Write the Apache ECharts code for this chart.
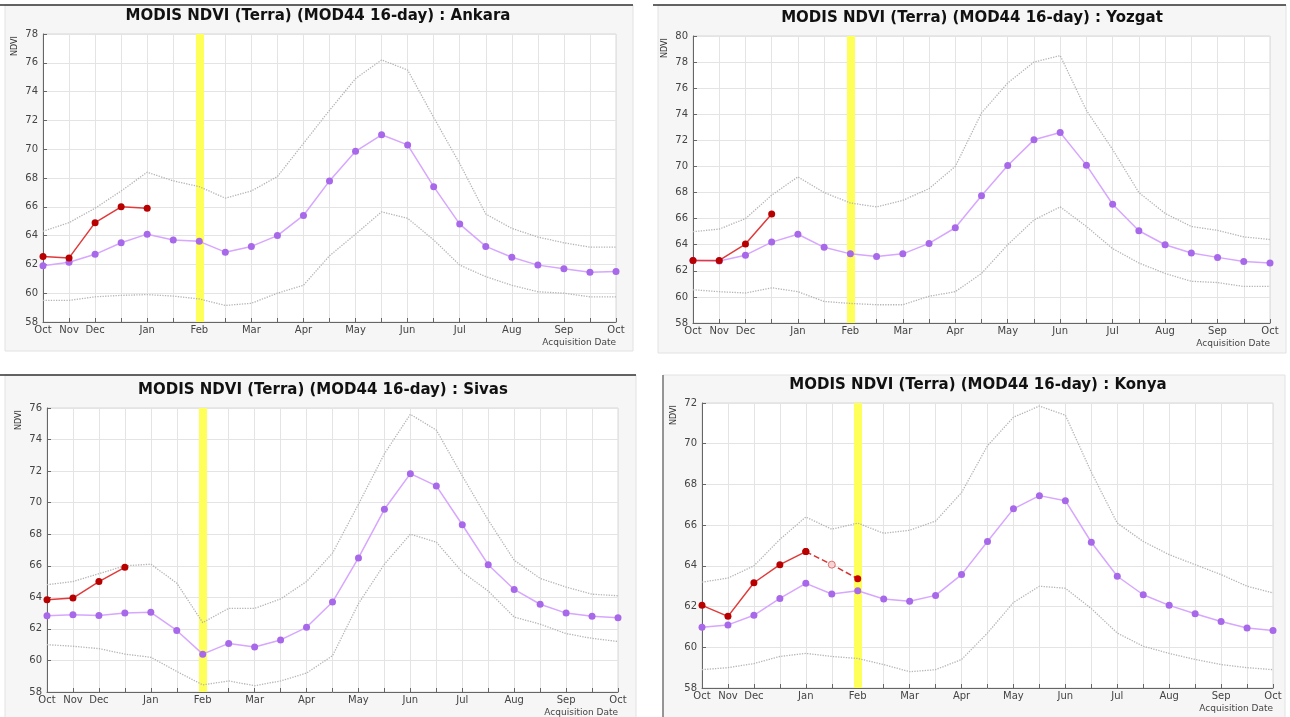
<!DOCTYPE html>
<html>
<head>
<meta charset="utf-8">
<title>MODIS NDVI</title>
<script src="https://cdn.jsdelivr.net/npm/echarts@6/dist/echarts.min.js"></script>
<style>
  html, body { margin: 0; padding: 0; background: #fff; }
  #main { width: 1290px; height: 717px; }
</style>
</head>
<body>
<div id="main"></div>
<script type="text/javascript">
// x axis: 16-day composites, Oct .. Oct
var tickLabels = ['Oct','Nov','Dec','','Jan','','Feb','','Mar','','Apr','','May','','Jun','','Jul','','Aug','','Sep','','Oct'];

// Ankara
var ankaraMean = [61.9, 62.15, 62.7, 63.5, 64.1, 63.7, 63.6, 62.85, 63.25, 64.0, 65.4, 67.8, 69.85, 71.0, 70.3, 67.4, 64.8, 63.25, 62.5, 61.95, 61.7, 61.45, 61.5];
var ankaraMax = [64.3, 64.9, 65.9, 67.1, 68.4, 67.8, 67.4, 66.6, 67.1, 68.1, 70.4, 72.7, 74.9, 76.2, 75.5, 72.2, 69.0, 65.5, 64.5, 63.9, 63.5, 63.2, 63.2];
var ankaraMin = [59.5, 59.5, 59.75, 59.85, 59.9, 59.8, 59.6, 59.15, 59.3, 60.0, 60.55, 62.6, 64.1, 65.65, 65.2, 63.7, 61.95, 61.15, 60.55, 60.1, 60.0, 59.75, 59.75];
var ankaraNow = [62.55, 62.45, 64.9, 66.0, 65.9];

// Yozgat
var yozgatMean = [62.8, 62.75, 63.2, 64.2, 64.8, 63.8, 63.3, 63.1, 63.3, 64.1, 65.3, 67.75, 70.07, 72.04, 72.6, 70.1, 67.1, 65.07, 64.0, 63.36, 63.03, 62.72, 62.6];
var yozgatMax = [65.0, 65.2, 66.0, 67.8, 69.2, 68.0, 67.2, 66.9, 67.4, 68.3, 70.0, 74.1, 76.4, 78.0, 78.5, 74.3, 71.3, 68.0, 66.4, 65.4, 65.1, 64.6, 64.4];
var yozgatMin = [60.55, 60.4, 60.3, 60.7, 60.4, 59.65, 59.5, 59.4, 59.4, 60.05, 60.4, 61.8, 64.0, 65.9, 66.9, 65.4, 63.7, 62.6, 61.8, 61.2, 61.1, 60.8, 60.8];
var yozgatNow = [62.8, 62.8, 64.05, 66.35];

// Sivas
var sivasMean = [62.83, 62.9, 62.85, 63.0, 63.05, 61.9, 60.4, 61.08, 60.85, 61.3, 62.1, 63.7, 66.5, 69.58, 71.84, 71.06, 68.6, 66.07, 64.5, 63.56, 63.0, 62.8, 62.7];
var sivasMax = [64.8, 65.0, 65.5, 66.0, 66.1, 64.9, 62.4, 63.3, 63.3, 63.9, 65.0, 66.8, 69.9, 73.1, 75.6, 74.6, 71.7, 68.9, 66.35, 65.2, 64.65, 64.2, 64.1];
var sivasMin = [61.0, 60.9, 60.75, 60.4, 60.2, 59.3, 58.45, 58.7, 58.4, 58.7, 59.2, 60.3, 63.6, 66.1, 68.0, 67.5, 65.6, 64.4, 62.75, 62.3, 61.7, 61.4, 61.2];
var sivasNow = [63.85, 63.95, 65.0, 65.9];

// Konya
var konyaMean = [60.98, 61.1, 61.57, 62.4, 63.14, 62.62, 62.78, 62.37, 62.26, 62.55, 63.57, 65.2, 66.8, 67.45, 67.2, 65.16, 63.49, 62.58, 62.06, 61.65, 61.27, 60.95, 60.82];
var konyaMax = [63.2, 63.4, 64.0, 65.3, 66.4, 65.8, 66.1, 65.6, 65.75, 66.2, 67.6, 69.9, 71.3, 71.85, 71.4, 68.6, 66.1, 65.2, 64.55, 64.06, 63.57, 63.0, 62.67];
var konyaMin = [58.9, 59.0, 59.2, 59.55, 59.7, 59.55, 59.45, 59.15, 58.8, 58.9, 59.4, 60.7, 62.2, 63.0, 62.9, 61.9, 60.7, 60.05, 59.7, 59.4, 59.15, 59.0, 58.9];
var konyaNow = [62.06, 61.52, 63.17, 64.06, 64.7];
var konyaNext = [64.7, 64.06, 63.37];   // dashed, from index 4
var konyaNextStart = 4;

var markIndex = 6; // yellow band at Feb

var panels = [
  { name: 'Ankara', mean: ankaraMean, max: ankaraMax, min: ankaraMin, now: ankaraNow, ymax: 78,
    grid: { left: 43, top: 34, width: 573, height: 288 }, box: [5, 5, 628, 346], titleX: 318, dark: 'top' },
  { name: 'Yozgat', mean: yozgatMean, max: yozgatMax, min: yozgatMin, now: yozgatNow, ymax: 80,
    grid: { left: 693, top: 36, width: 577, height: 287 }, box: [658, 5, 628, 348], titleX: 972, dark: 'top' },
  { name: 'Sivas', mean: sivasMean, max: sivasMax, min: sivasMin, now: sivasNow, ymax: 76,
    grid: { left: 47, top: 408, width: 571, height: 284 }, box: [5, 375, 631, 345], titleX: 323, dark: 'top' },
  { name: 'Konya', mean: konyaMean, max: konyaMax, min: konyaMin, now: konyaNow, ymax: 72,
    grid: { left: 702, top: 403, width: 571, height: 285 }, box: [663, 375, 622, 345], titleX: 978, dark: 'left' }
];

function pairs(arr, start) {
  start = start || 0;
  return arr.map(function (v, i) { return [i + start, v]; });
}

var grids = [], xAxes = [], yAxes = [], series = [], graphics = [];
var fontFam = 'DejaVu Sans';

panels.forEach(function (p, k) {
  var b = p.box;
  graphics.push({ type: 'rect', z: -10, shape: { x: b[0], y: b[1], width: b[2], height: b[3] },
    style: { fill: '#f6f6f6', stroke: '#e2e2e2', lineWidth: 1 } });
  if (p.dark === 'top') {
    graphics.push({ type: 'line', z: -9, shape: { x1: b[0] - 5, y1: b[1], x2: b[0] + b[2], y2: b[1] },
      style: { stroke: '#333', lineWidth: 1.5 } });
  } else {
    graphics.push({ type: 'line', z: -9, shape: { x1: b[0], y1: b[1], x2: b[0], y2: b[1] + b[3] },
      style: { stroke: '#777', lineWidth: 1.5 } });
  }
  graphics.push({ type: 'text', x: p.titleX, y: p.grid.top - 18,
    style: { text: 'MODIS NDVI (Terra) (MOD44 16-day) : ' + p.name, font: 'bold 15px "DejaVu Sans"', fill: '#111',
      textAlign: 'center', textVerticalAlign: 'middle' } });
  graphics.push({ type: 'text', x: p.grid.left - 28, y: p.grid.top + 12, rotation: Math.PI / 2,
    style: { text: 'NDVI', font: '8px "DejaVu Sans"', fill: '#333', textAlign: 'center', textVerticalAlign: 'middle' } });
  graphics.push({ type: 'text', x: p.grid.left + p.grid.width, y: p.grid.top + p.grid.height + 16,
    style: { text: 'Acquisition Date', font: '9px "DejaVu Sans"', fill: '#444', textAlign: 'right' } });

  grids.push({ left: p.grid.left, top: p.grid.top, width: p.grid.width, height: p.grid.height,
    show: true, backgroundColor: '#fff', borderColor: '#d8d8d8', borderWidth: 1 });

  xAxes.push({
    type: 'value', gridIndex: k, min: 0, max: 22, interval: 1,
    axisLine: { lineStyle: { color: '#666' } },
    axisTick: { inside: true, length: 4, lineStyle: { color: '#666' } },
    axisLabel: { fontSize: 10, fontFamily: fontFam, color: '#444', margin: 3,
      formatter: function (v) { return tickLabels[v] || ''; } },
    splitLine: { show: true, lineStyle: { color: '#e4e4e4' } }
  });
  yAxes.push({
    type: 'value', gridIndex: k, min: 58, max: p.ymax, interval: 2,
    axisLine: { show: true, lineStyle: { color: '#666' } },
    axisTick: { show: true, inside: true, length: 4, lineStyle: { color: '#666' } },
    axisLabel: { fontSize: 10, fontFamily: fontFam, color: '#444', margin: 5 },
    splitLine: { show: true, lineStyle: { color: '#e4e4e4' } }
  });

  var dotted = { type: 'dotted', color: '#b4b4b4', width: 1.3 };
  series.push({
    type: 'line', xAxisIndex: k, yAxisIndex: k, data: pairs(p.max), showSymbol: false,
    lineStyle: dotted, z: 2, silent: true,
    markLine: { silent: true, z: 1, symbol: 'none', label: { show: false },
      lineStyle: { color: '#ffff5a', width: 8, type: 'solid', opacity: 1 },
      data: [{ xAxis: markIndex }] }
  });
  series.push({
    type: 'line', xAxisIndex: k, yAxisIndex: k, data: pairs(p.min), showSymbol: false,
    lineStyle: dotted, z: 2, silent: true
  });
  series.push({
    type: 'line', xAxisIndex: k, yAxisIndex: k, data: pairs(p.mean), symbol: 'circle', symbolSize: 7,
    lineStyle: { color: '#d7a6ff', width: 1.5 }, itemStyle: { color: '#a868ea' }, z: 3
  });
  if (p.name === 'Konya') {
    series.push({
      type: 'line', xAxisIndex: k, yAxisIndex: k, z: 4, symbol: 'circle', symbolSize: 7,
      data: pairs(konyaNext, konyaNextStart).map(function (d, i) {
        return i === 1 ? { value: d, itemStyle: { color: '#f4d4d4', borderColor: '#e07070', borderWidth: 1 } } : d;
      }),
      lineStyle: { color: '#d83030', width: 1.5, type: 'dashed' }, itemStyle: { color: '#c40000' }
    });
  }
  series.push({
    type: 'line', xAxisIndex: k, yAxisIndex: k, data: pairs(p.now), symbol: 'circle', symbolSize: 7,
    lineStyle: { color: '#e03a3a', width: 1.5 }, itemStyle: { color: '#b80000' }, z: 5
  });
});

var chart = echarts.init(document.getElementById('main'), null, { renderer: 'canvas' });
chart.setOption({
  animation: false,
  backgroundColor: '#fff',
  textStyle: { fontFamily: fontFam },
  grid: grids,
  xAxis: xAxes,
  yAxis: yAxes,
  series: series,
  graphic: graphics
});
</script>
</body>
</html>
